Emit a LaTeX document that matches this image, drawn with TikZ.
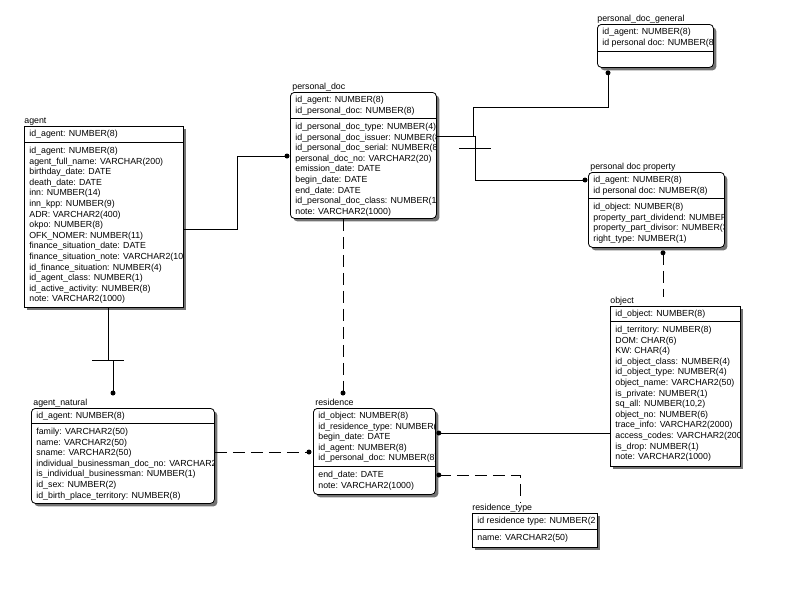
\documentclass[tikz,border=0pt]{standalone}
\usepackage{fontspec}
\setmainfont{Liberation Sans}
\usetikzlibrary{shadows,calc}
\newcommand{\erfont}{\fontsize{8.8}{10.6}\selectfont}

\begin{document}
\begin{tikzpicture}[x=1pt,y=-1pt,line width=0.8pt,
  every node/.style={font=\erfont,inner sep=0pt},
  ent/.style={draw,fill=white,anchor=north west,
    drop shadow={shadow xshift=3pt,shadow yshift=-3pt,fill=black!55,opacity=1}},
  dep/.style={ent,rounded corners=4pt},
  row/.style={anchor=base west},
  rel/.style={line width=1pt},
  nonid/.style={rel,dash pattern=on 12pt off 6pt}]
\useasboundingbox (0,0) rectangle (789,589);

% agent
\node[ent,minimum width=159,minimum height=181] (agent) at (24,126) {};
\node[row] (agent-t) at (24,123) {agent};
\draw (agent.west |- 0,142) -- (agent.east |- 0,142);
\begin{scope}
\clip (agent.south west) rectangle (agent.north east);
\node[row] (agent-k0) at (29,136.5) {id\_agent: NUMBER(8)};
\foreach \txt [count=\i from 0] in {id\_agent: NUMBER(8),agent\_full\_name: VARCHAR(200),
  birthday\_date: DATE,death\_date: DATE,inn: NUMBER(14),inn\_kpp: NUMBER(9),
  ADR: VARCHAR2(400),okpo: NUMBER(8),OFK\_NOMER: NUMBER(11),finance\_situation\_date: DATE,
  finance\_situation\_note: VARCHAR2(100,id\_finance\_situation: NUMBER(4),
  id\_agent\_class: NUMBER(1),id\_active\_activity: NUMBER(8),note: VARCHAR2(1000)}
  \node[row] (agent-a\i) at (29,{153.5+10.6*\i}) {\txt};
\end{scope}

% personal_doc
\node[dep,minimum width=146,minimum height=126] (pdoc) at (290,92) {};
\node[row] (pdoc-t) at (292,89) {personal\_doc};
\draw (pdoc.west |- 0,118) -- (pdoc.east |- 0,118);
\begin{scope}
\clip (pdoc.south west) rectangle (pdoc.north east);
\foreach \txt [count=\i from 0] in {id\_agent: NUMBER(8),id\_personal\_doc: NUMBER(8)}
  \node[row] (pdoc-k\i) at (295,{102.5+10.6*\i}) {\txt};
\foreach \txt [count=\i from 0] in {id\_personal\_doc\_type: NUMBER(4),
  id\_personal\_doc\_issuer: NUMBER(8,id\_personal\_doc\_serial: NUMBER(8,
  personal\_doc\_no: VARCHAR2(20),emission\_date: DATE,begin\_date: DATE,end\_date: DATE,
  id\_personal\_doc\_class: NUMBER(1,note: VARCHAR2(1000)}
  \node[row] (pdoc-a\i) at (295,{129.5+10.6*\i}) {\txt};
\end{scope}

% personal_doc_general
\node[dep,minimum width=116,minimum height=43] (pdocgen) at (597,24) {};
\node[row] (pdocgen-t) at (597,21) {personal\_doc\_general};
\draw (pdocgen.west |- 0,51) -- (pdocgen.east |- 0,51);
\begin{scope}
\clip (pdocgen.south west) rectangle (pdocgen.north east);
\foreach \txt [count=\i from 0] in {id\_agent: NUMBER(8),id personal doc: NUMBER(8}
  \node[row] (pdocgen-k\i) at (602,{34.5+10.6*\i}) {\txt};
\end{scope}

% personal_doc_property
\node[dep,minimum width=136,minimum height=75] (pdocprop) at (588,172) {};
\node[row] (pdocprop-t) at (590,169) {personal doc property};
\draw (pdocprop.west |- 0,198) -- (pdocprop.east |- 0,198);
\begin{scope}
\clip (pdocprop.south west) rectangle (pdocprop.north east);
\foreach \txt [count=\i from 0] in {id\_agent: NUMBER(8),id personal doc: NUMBER(8)}
  \node[row] (pdocprop-k\i) at (593,{182.5+10.6*\i}) {\txt};
\foreach \txt [count=\i from 0] in {id\_object: NUMBER(8),property\_part\_dividend: NUMBER(,
  property\_part\_divisor: NUMBER(3),right\_type: NUMBER(1)}
  \node[row] (pdocprop-a\i) at (593,{209.5+10.6*\i}) {\txt};
\end{scope}

% object
\node[ent,minimum width=130,minimum height=160] (object) at (610,306) {};
\node[row] (object-t) at (610,303) {object};
\draw (object.west |- 0,321) -- (object.east |- 0,321);
\begin{scope}
\clip (object.south west) rectangle (object.north east);
\node[row] (object-k0) at (615,316.5) {id\_object: NUMBER(8)};
\foreach \txt [count=\i from 0] in {id\_territory: NUMBER(8),DOM: CHAR(6),KW: CHAR(4),
  id\_object\_class: NUMBER(4),id\_object\_type: NUMBER(4),object\_name: VARCHAR2(50),
  is\_private: NUMBER(1),{sq\_all: NUMBER(10,2)},object\_no: NUMBER(6),
  trace\_info: VARCHAR2(2000),access\_codes: VARCHAR2(2000,is\_drop: NUMBER(1),
  note: VARCHAR2(1000)}
  \node[row] (object-a\i) at (615,{332.5+10.6*\i}) {\txt};
\end{scope}

% agent_natural
\node[dep,minimum width=183,minimum height=95] (natural) at (31,408) {};
\node[row] (natural-t) at (33,405) {agent\_natural};
\draw (natural.west |- 0,423) -- (natural.east |- 0,423);
\begin{scope}
\clip (natural.south west) rectangle (natural.north east);
\node[row] (natural-k0) at (36,418.5) {id\_agent: NUMBER(8)};
\foreach \txt [count=\i from 0] in {family: VARCHAR2(50),name: VARCHAR2(50),
  sname: VARCHAR2(50),individual\_businessman\_doc\_no: VARCHAR2(,
  is\_individual\_businessman: NUMBER(1),id\_sex: NUMBER(2),
  id\_birth\_place\_territory: NUMBER(8)}
  \node[row] (natural-a\i) at (36,{434.5+10.6*\i}) {\txt};
\end{scope}

% residence
\node[dep,minimum width=122,minimum height=86] (resid) at (313,408) {};
\node[row] (resid-t) at (315,405) {residence};
\draw (resid.west |- 0,466) -- (resid.east |- 0,466);
\begin{scope}
\clip (resid.south west) rectangle (resid.north east);
\foreach \txt [count=\i from 0] in {id\_object: NUMBER(8),id\_residence\_type: NUMBER(2,
  begin\_date: DATE,id\_agent: NUMBER(8),id\_personal\_doc: NUMBER(8)}
  \node[row] (resid-k\i) at (318,{418.5+10.6*\i}) {\txt};
\foreach \txt [count=\i from 0] in {end\_date: DATE,note: VARCHAR2(1000)}
  \node[row] (resid-a\i) at (318,{477.5+10.6*\i}) {\txt};
\end{scope}

% residence_type
\node[ent,minimum width=125,minimum height=34] (restype) at (472,513) {};
\node[row] (restype-t) at (472,510) {residence\_type};
\draw (restype.west |- 0,529) -- (restype.east |- 0,529);
\begin{scope}
\clip (restype.south west) rectangle (restype.north east);
\node[row] (restype-k0) at (477,523.5) {id residence type: NUMBER(2};
\node[row] (restype-a0) at (477,540.5) {name: VARCHAR2(50)};
\end{scope}

% relationships
\coordinate (natdot) at ($(natural.north west)+(82,-15)$);
\coordinate (gendot) at ($(pdocgen.south west)+(11,5)$);
\coordinate (propdot) at ($(pdocprop.south west)+(75,5)$);
\coordinate (objtop) at ($(object.north west)+(53,-9)$);
\coordinate (resdot) at ($(resid.north west)+(30,-15)$);
\coordinate (rttop) at ($(restype.north west)+(48,-11)$);
\coordinate (pdocdot) at ($(pdoc.west |- 0,156)+(-3,0)$);
\coordinate (propldot) at ($(pdocprop.west |- 0,180)+(-3,0)$);
\coordinate (reswdot) at ($(resid.west |- 0,452)+(-4,0)$);
\coordinate (resedot) at ($(resid.east |- 0,433)+(3,0)$);
\coordinate (rtdot) at ($(resid.east |- 0,475)+(3,0)$);

\draw[rel] (agent.east |- 0,229) -| (237,156) -- (pdocdot);
\fill (pdocdot) circle (2.5pt);

\draw[rel] (agent.south -| 108,0) -- (108,360);
\draw[rel] (92,360) -- (124,360);
\draw[rel] (113,360) -- (natdot);
\fill (natdot) circle (2.5pt);

\draw[rel] (pdoc.east |- 0,136) -| (473,107) -| (gendot);
\fill (gendot) circle (2.5pt);

\draw[rel] (pdoc.east |- 0,136) -| (475,180) -- (propldot);
\draw[rel] (459,148) -- (491,148);
\fill (propldot) circle (2.5pt);

\draw[nonid] (propdot) -- (objtop);
\fill (propdot) circle (2.5pt);

\draw[nonid] (pdoc.south -| resdot) -- (resdot);
\fill (resdot) circle (2.5pt);

\draw[nonid] (natural.east |- 0,452) -- (reswdot);
\fill (reswdot) circle (2.5pt);

\draw[rel] (object.west |- 0,433) -- (resedot);
\fill (resedot) circle (2.5pt);

\draw[nonid] (rtdot) -| (rttop);
\fill (rtdot) circle (2.5pt);
\end{tikzpicture}
\end{document}
